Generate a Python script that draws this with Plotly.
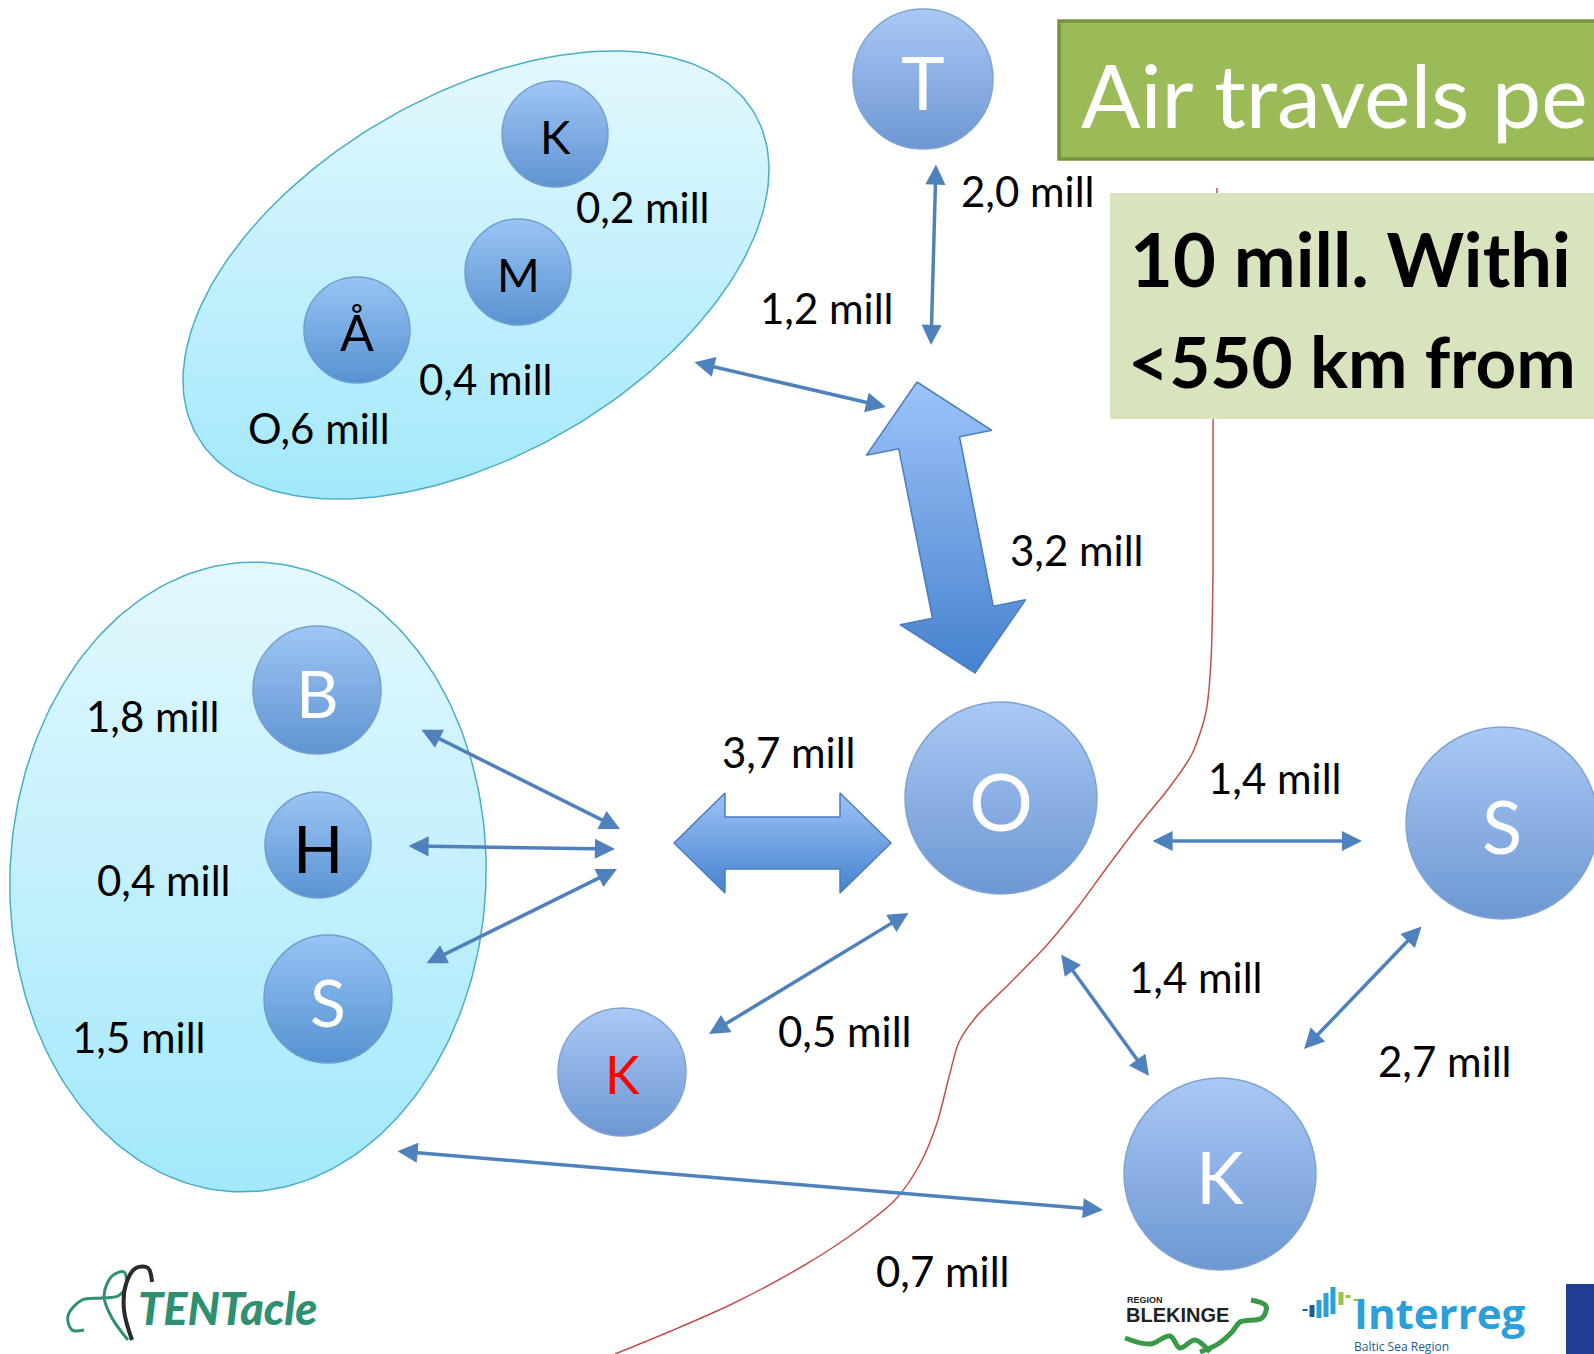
import numpy as np
import plotly.graph_objects as go

W, H = 1594, 1354

# ---------------- data ----------------
node_letters = ["T", "K", "M", "Å", "B", "H", "S", "K", "O", "S", "K"]
node_letter_colors = ["white", "black", "black", "black", "white", "black", "white", "red", "white", "white", "white"]
node_x = [923, 555, 518, 357, 317, 318, 328, 622, 1001, 1502, 1220]
node_y = [79, 134, 272, 330, 690, 845, 999, 1072, 798, 823, 1174]
node_r = [70, 53, 53, 53, 64, 53, 64, 64, 96, 96, 96]
node_font = [74, 46, 46, 50, 66, 66, 66, 52, 80, 74, 72]

city_values = ["0,2 mill", "0,4 mill", "O,6 mill", "1,8 mill", "0,4 mill", "1,5 mill"]
city_lx = [642, 485, 319, 152, 163, 138]
city_ly = [207, 379, 428, 716, 880, 1037]

flow_values = ["2,0 mill", "1,2 mill", "3,2 mill", "3,7 mill", "1,4 mill", "1,4 mill", "0,5 mill", "2,7 mill", "0,7 mill"]
flow_lx = [1027, 826, 1076, 788, 1274, 1195, 844, 1444, 942]
flow_ly = [191, 308, 550, 752, 778, 977, 1031, 1061, 1271]

# thin double arrows (start -> end)
arrow_x0 = [936, 693, 420, 407, 425, 910, 1151, 1060, 1423, 396]
arrow_y0 = [163, 362, 729, 846, 964, 912, 841, 953, 925, 1151]
arrow_x1 = [931, 886, 620, 615, 617, 709, 1362, 1149, 1304, 1103]
arrow_y1 = [345, 407, 829, 849, 869, 1034, 841, 1076, 1049, 1210]

# big block arrows: tips, head length, head half width, shaft half width
block_tips = [((917, 382), (975, 673)), ((674, 843), (891, 843))]
block_dims = [(62, 64, 31), (51, 50, 26)]

# regions (ellipses): centre, semi-axes, rotation
region_c = [(476, 275), (248, 877)]
region_ab = [(322, 180), (238, 315)]
region_rot = [-30, 2.4]

# border line (red)
border_x = [1217, 1215, 1213, 1213, 1211, 1206, 1192, 1169, 1139, 1108, 1078, 1047, 1009, 976, 959, 949,
            937, 920, 895, 854, 803, 732, 671, 615]
border_y = [188, 305, 427, 569, 661, 712, 754, 788, 825, 866, 907, 945, 984, 1017, 1042, 1077,
            1123, 1164, 1200, 1233, 1266, 1304, 1331, 1354]

# visible parts of the (edge-cropped) headline texts
title_text = "Air travels pe"
box_lines = ["10 mill. Withi", "&lt;550 km from"]

# ---------------- styles ----------------
NODE_TOP = "#86B2F2"
NODE_BOT = "#306CC0"
NODE_LINE = "#4A7EBB"
ARROW_C = "#4F81BD"
FONT = "Lato, 'Open Sans', sans-serif"

fig = go.Figure()


def ellipse(cx, cy, a, b, ang, n=240):
    t = np.linspace(0, 2 * np.pi, n)
    th = np.radians(ang)
    x = cx + a * np.cos(t) * np.cos(th) - b * np.sin(t) * np.sin(th)
    y = cy + a * np.cos(t) * np.sin(th) + b * np.sin(t) * np.cos(th)
    return x, y


for (cx, cy), (a, b), rot in zip(region_c, region_ab, region_rot):
    ex, ey = ellipse(cx, cy, a, b, rot)
    fig.add_trace(go.Scatter(
        x=ex, y=ey, mode="lines", fill="toself",
        line=dict(color="#4BACC6", width=1.5),
        fillgradient=dict(type="vertical", colorscale=[[0, "#E3F8FD"], [1, "#A2E8FB"]],
                          start=float(ey.min()), stop=float(ey.max())),
        hoverinfo="skip"))

# red border
fig.add_trace(go.Scatter(x=border_x, y=border_y, mode="lines",
                         line=dict(color="#C0504D", width=1.5, shape="spline", smoothing=0.8),
                         hoverinfo="skip"))


def block_arrow(p1, p2, hl, hw, sw):
    p1 = np.array(p1, float)
    p2 = np.array(p2, float)
    d = (p2 - p1) / np.linalg.norm(p2 - p1)
    nrm = np.array([-d[1], d[0]])
    pts = [p1,
           p1 + d * hl + nrm * hw, p1 + d * hl + nrm * sw,
           p2 - d * hl + nrm * sw, p2 - d * hl + nrm * hw,
           p2,
           p2 - d * hl - nrm * hw, p2 - d * hl - nrm * sw,
           p1 + d * hl - nrm * sw, p1 + d * hl - nrm * hw, p1]
    pts = np.array(pts)
    return pts[:, 0], pts[:, 1]


for (p1, p2), (hl, hw, sw) in zip(block_tips, block_dims):
    bx, by = block_arrow(p1, p2, hl, hw, sw)
    fig.add_trace(go.Scatter(
        x=bx, y=by, mode="lines", fill="toself",
        line=dict(color=NODE_LINE, width=1.5),
        fillgradient=dict(type="vertical", colorscale=[[0, "#9DC3F9"], [1, "#4682CE"]],
                          start=float(by.min()), stop=float(by.max())),
        hoverinfo="skip"))

# nodes
fig.add_trace(go.Scatter(
    x=node_x, y=node_y, mode="markers",
    marker=dict(size=[2 * r for r in node_r], color=NODE_TOP,
                gradient=dict(type="vertical", color=NODE_BOT),
                line=dict(color=NODE_LINE, width=1.5)),
    hoverinfo="skip"))

annotations = []
for L, c, x, y, fs in zip(node_letters, node_letter_colors, node_x, node_y, node_font):
    annotations.append(dict(x=x, y=y + 2, xref="x", yref="y", text=L, showarrow=False,
                            font=dict(family=FONT, size=fs, color=c), xanchor="center", yanchor="middle"))

for t, x, y in zip(city_values + flow_values, city_lx + flow_lx, city_ly + flow_ly):
    annotations.append(dict(x=x, y=y, xref="x", yref="y", text=t, showarrow=False,
                            font=dict(family=FONT, size=42, color="black"), xanchor="center", yanchor="middle"))

for x0, y0, x1, y1 in zip(arrow_x0, arrow_y0, arrow_x1, arrow_y1):
    annotations.append(dict(x=x1, y=y1, ax=x0, ay=y0, xref="x", yref="y", axref="x", ayref="y",
                            text="", showarrow=True, arrowside="end+start",
                            arrowhead=2, startarrowhead=2, arrowsize=1.15, startarrowsize=1.15,
                            arrowwidth=3.5, arrowcolor=ARROW_C, standoff=0, startstandoff=0))

shapes = [
    dict(type="rect", xref="x", yref="y", x0=1059, x1=1620, y0=21, y1=159, layer="above",
         fillcolor="#9BBB59", line=dict(color="#77933C", width=3.5)),
    dict(type="rect", xref="x", yref="y", x0=1110, x1=1620, y0=193, y1=419, layer="above",
         fillcolor="#D7E4BD", line=dict(width=0)),
    # EU flag
    dict(type="rect", xref="x", yref="y", x0=1566, x1=1620, y0=1284, y1=1360, layer="above",
         fillcolor="#1F3F95", line=dict(width=0)),
]

annotations.append(dict(x=1079, y=94, xref="x", yref="y", text=title_text, showarrow=False,
                        font=dict(family=FONT, size=88, color="white"), xanchor="left", yanchor="middle"))
annotations.append(dict(x=1128, y=258, xref="x", yref="y", text=box_lines[0], showarrow=False,
                        font=dict(family=FONT, size=74, color="black", weight=700), xanchor="left", yanchor="middle"))
annotations.append(dict(x=1126, y=360, xref="x", yref="y", text=box_lines[1], showarrow=False,
                        font=dict(family=FONT, size=71, color="black", weight=700), xanchor="left", yanchor="middle"))

# ---- logos (approximate) ----
annotations.append(dict(x=136, y=1308, xref="x", yref="y", text="TENTacle", showarrow=False,
                        font=dict(family="Lato", size=45, color="#2E9070",
                                  weight=900, style="italic"), xanchor="left", yanchor="middle"))
fig.add_trace(go.Scatter(x=[128, 112, 104, 112, 124, 126, 118, 102, 82, 68, 72, 84],
                         y=[1340, 1318, 1296, 1276, 1272, 1286, 1296, 1298, 1300, 1316, 1330, 1330],
                         mode="lines", line=dict(color="#2E9070", width=3, shape="spline"), hoverinfo="skip"))
fig.add_trace(go.Scatter(x=[132, 124, 126, 136, 148, 152],
                         y=[1340, 1310, 1284, 1268, 1268, 1282],
                         mode="lines", line=dict(color="#2B2B2B", width=4, shape="spline"), hoverinfo="skip"))

annotations.append(dict(x=1125, y=1300, xref="x", yref="y", text="REGION", showarrow=False,
                        font=dict(family="'Liberation Sans'", size=9, color="#222", weight=700),
                        xanchor="left", yanchor="middle"))
annotations.append(dict(x=1124, y=1315, xref="x", yref="y", text="BLEKINGE", showarrow=False,
                        font=dict(family="'Liberation Sans'", size=20, color="#222", weight=700),
                        xanchor="left", yanchor="middle"))
fig.add_trace(go.Scatter(x=[1251, 1266, 1262, 1240, 1232, 1218, 1200],
                         y=[1300, 1306, 1318, 1322, 1332, 1344, 1352],
                         mode="lines", line=dict(color="#3A9A48", width=5, shape="spline"), hoverinfo="skip"))
fig.add_trace(go.Scatter(x=[1125, 1150, 1170, 1180, 1195, 1210],
                         y=[1338, 1344, 1336, 1348, 1340, 1352],
                         mode="lines", line=dict(color="#3A9A48", width=5, shape="spline"), hoverinfo="skip"))

bar_x = [1305, 1312, 1319, 1326, 1333, 1341, 1348, 1356]
bar_top = [1309, 1305, 1300, 1293, 1287, 1292, 1295, 1299]
bar_bot = [1311, 1317, 1318, 1317, 1314, 1305, 1298, 1301]
bar_col = ["#1B5E8C", "#1B5E8C", "#2A9FD9", "#2A9FD9", "#2A9FD9", "#9BC53D", "#9BC53D", "#9BC53D"]
for bx_, bt, bb, bc in zip(bar_x, bar_top, bar_bot, bar_col):
    fig.add_trace(go.Scatter(x=[bx_, bx_], y=[bt, bb], mode="lines",
                             line=dict(color=bc, width=5), hoverinfo="skip"))
annotations.append(dict(x=1352, y=1312, xref="x", yref="y", text="Interreg", showarrow=False,
                        font=dict(family="'Open Sans'", size=42, color="#2A9FD9", weight=700),
                        xanchor="left", yanchor="middle"))
annotations.append(dict(x=1352, y=1346, xref="x", yref="y", text="Baltic Sea Region", showarrow=False,
                        font=dict(family="'Open Sans'", size=12, color="#1B5E8C"),
                        xanchor="left", yanchor="middle"))
fig.add_trace(go.Scatter(x=[1580, 1574, 1580], y=[1306, 1320, 1334], mode="markers",
                         marker=dict(symbol="star", size=7, color="#FFDD00"), hoverinfo="skip"))

fig.update_layout(
    width=W, height=H, margin=dict(l=0, r=0, t=0, b=0),
    paper_bgcolor="white", plot_bgcolor="white", showlegend=False,
    xaxis=dict(range=[0, W], visible=False, fixedrange=True),
    yaxis=dict(range=[H, 0], visible=False, fixedrange=True),
    shapes=shapes, annotations=annotations,
)

fig.write_html("out.html", config={"displayModeBar": False},
               post_script="document.body.style.margin='0';document.body.style.overflow='hidden';")
